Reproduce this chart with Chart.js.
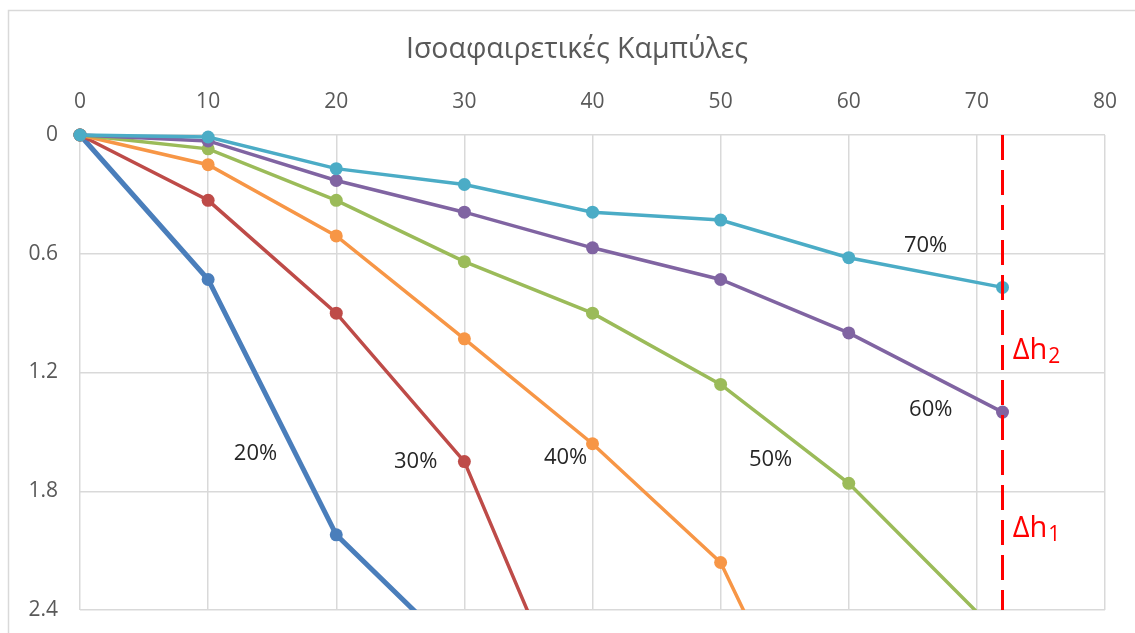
<!DOCTYPE html>
<html>
<head>
<meta charset="utf-8">
<script src="https://cdn.jsdelivr.net/npm/chart.js@4"></script>
<style>
  html,body{margin:0;padding:0;background:#fff;}
  #wrap{width:1135px;height:633px;position:relative;}
</style>
</head>
<body>
<div id="wrap"><canvas id="c" width="1135" height="633"></canvas></div>
<script>
(function(){
  'use strict';

  // Data
  const depthX   = [0, 10, 20, 30, 40, 50, 60, 72];
  const curve20  = [0, 0.73, 2.02, 2.65];
  const curve30  = [0, 0.33, 0.90, 1.65, 3.18];
  const curve40  = [0, 0.15, 0.51, 1.03, 1.56, 2.16, 3.51];
  const curve50  = [0, 0.07, 0.33, 0.64, 0.90, 1.26, 1.76, 2.54];
  const curve60  = [0, 0.03, 0.23, 0.39, 0.57, 0.73, 1.00, 1.40];
  const curve70  = [0, 0.01, 0.17, 0.25, 0.39, 0.43, 0.62, 0.77];
  const curveNames  = ['20%', '30%', '40%', '50%', '60%', '70%'];
  const curveColors = ['#4a7ebb', '#be4b48', '#f79646', '#9bbb59', '#8064a2', '#4bacc6'];
  const nameX = [13.7, 26.2, 37.9, 53.9, 66.4, 66.0];
  const nameY = [1.61, 1.65, 1.63, 1.64, 1.39, 0.56];
  const markerX = 72;
  const markerY = [0, 2.4];
  const deltaLabels = [{main:'Δh', sub:'2', x:72.8, y:1.08}, {main:'Δh', sub:'1', x:72.8, y:1.98}];
  const xTicks = [0, 10, 20, 30, 40, 50, 60, 70, 80];
  const yTicks = [0, 0.6, 1.2, 1.8, 2.4];
  const chartTitle = 'Ισοαφαιρετικές Καμπύλες';

  const FONT = "'Open Sans', sans-serif";
  const series = [curve20, curve30, curve40, curve50, curve60, curve70];

  const datasets = series.map((vals, i) => ({
    label: curveNames[i],
    data: vals.map((v, k) => ({x: depthX[k], y: v})),
    borderColor: curveColors[i],
    backgroundColor: curveColors[i],
    borderWidth: i === 0 ? 5 : 3.5,
    pointRadius: 6.5,
    pointBorderWidth: 0,
    pointHoverRadius: 6.5,
    tension: 0,
    order: 10 - i,
    clip: {left: 12, top: 12, right: 12, bottom: 0}
  }));
  datasets.push({
    label: 'limit',
    data: markerY.map(v => ({x: markerX, y: v})),
    borderColor: '#ff0000',
    borderWidth: 3,
    borderDash: [25, 10],
    pointRadius: 0,
    order: -1,
    clip: 0
  });

  // frame, title, curve labels
  const extras = {
    id: 'extras',
    beforeDraw(chart){
      const ctx = chart.ctx;
      ctx.save();
      ctx.strokeStyle = '#d9d9d9';
      ctx.lineWidth = 1.5;
      ctx.strokeRect(8.5, 10.5, 1300, 700);
      ctx.fillStyle = '#595959';
      ctx.font = '28.5px ' + FONT;
      ctx.textAlign = 'center';
      ctx.textBaseline = 'middle';
      ctx.fillText(chartTitle, 577, 50);
      ctx.restore();
    },
    afterDraw(chart){
      const {ctx, scales:{x, y}} = chart;
      ctx.save();
      ctx.textAlign = 'center';
      ctx.textBaseline = 'middle';
      ctx.fillStyle = '#262626';
      ctx.font = '22px ' + FONT;
      curveNames.forEach((n, i) => ctx.fillText(n, x.getPixelForValue(nameX[i]), y.getPixelForValue(nameY[i])));
      ctx.fillStyle = '#ff0000';
      ctx.textAlign = 'left';
      ctx.textBaseline = 'alphabetic';
      deltaLabels.forEach(d => {
        const px = x.getPixelForValue(d.x), py = y.getPixelForValue(d.y) + 10;
        ctx.font = '29px ' + FONT;
        ctx.fillText(d.main, px, py);
        const w = ctx.measureText(d.main).width;
        ctx.font = '21px ' + FONT;
        ctx.fillText(d.sub, px + w + 1, py + 4);
      });
      ctx.restore();
    }
  };

  const noScalePad = s => { s.paddingTop = 0; s.paddingBottom = 0; s.paddingLeft = 0; s.paddingRight = 0; };

  new Chart(document.getElementById('c').getContext('2d'), {
    type: 'line',
    data: {datasets},
    options: {
      responsive: false,
      animation: false,
      events: [],
      layout: {padding: {left: 0, right: 30, top: 0, bottom: 23}},
      plugins: {
        legend: {display: false},
        tooltip: {enabled: false},
        title: {display: false}
      },
      scales: {
        x: {
          type: 'linear',
          position: 'top',
          min: 0, max: 80,
          afterBuildTicks: s => { s.ticks = xTicks.map(v => ({value: v})); },
          ticks: {color: '#595959', font: {family: FONT, size: 21}, padding: 20, maxRotation: 0},
          grid: {color: '#d9d9d9', lineWidth: 1.5, drawTicks: false},
          border: {display: false},
          afterFit: s => { s.height = 135; noScalePad(s); }
        },
        y: {
          type: 'linear',
          reverse: true,
          min: 0, max: 2.4,
          afterBuildTicks: s => { s.ticks = yTicks.map(v => ({value: v})); },
          ticks: {color: '#595959', font: {family: FONT, size: 21}, padding: 22, callback: v => String(v)},
          grid: {color: '#d9d9d9', lineWidth: 1.5, drawTicks: false},
          border: {display: false},
          afterFit: s => { s.width = 80; noScalePad(s); }
        }
      }
    },
    plugins: [extras]
  });
})();
</script>
</body>
</html>
